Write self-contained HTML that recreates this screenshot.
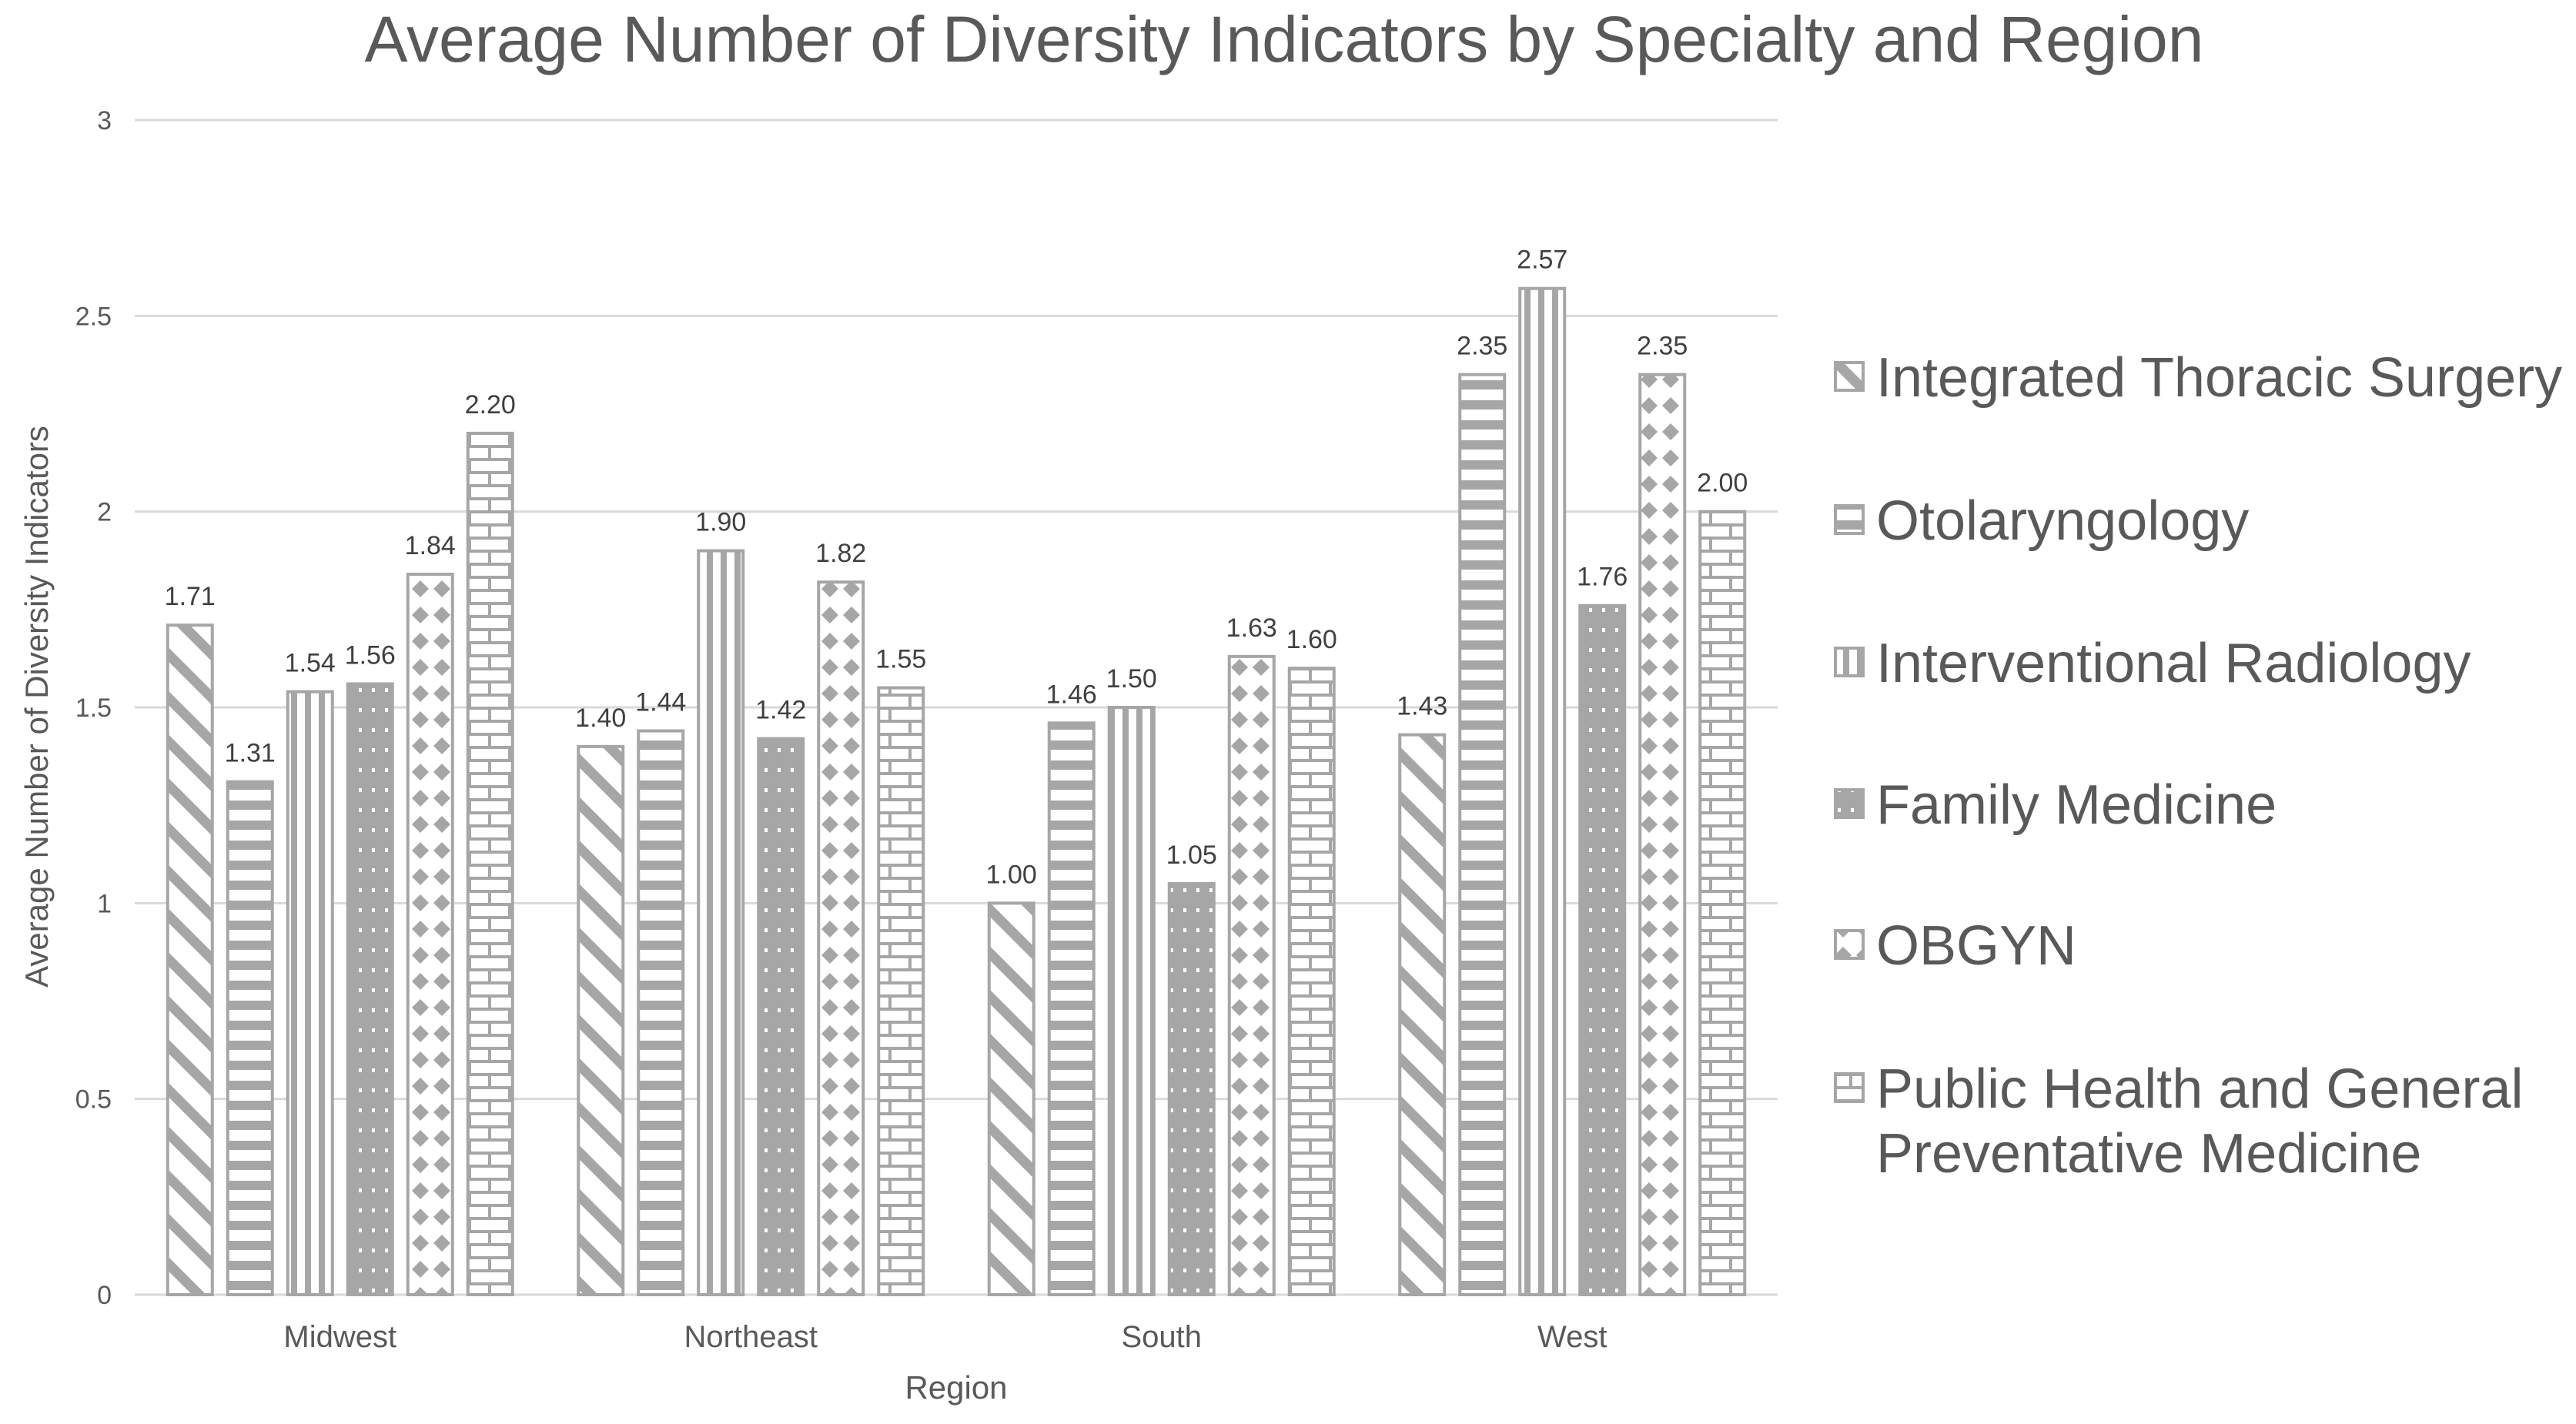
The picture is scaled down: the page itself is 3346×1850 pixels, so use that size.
<!DOCTYPE html>
<html><head><meta charset="utf-8">
<style>
html,body{margin:0;padding:0;background:#fff;}
svg{display:block;font-family:"Liberation Sans",Arial,sans-serif;}
</style></head>
<body>
<svg id="chart" width="3346" height="1850" viewBox="0 0 3346 1850" xmlns="http://www.w3.org/2000/svg">
<defs>
<pattern id="p0" patternUnits="userSpaceOnUse" width="40" height="40" patternTransform="rotate(45)">
<rect width="40" height="40" fill="#fff"/><rect x="0" y="0" width="40" height="13" fill="#a6a6a6"/></pattern>
<pattern id="p1" patternUnits="userSpaceOnUse" width="20" height="26">
<rect width="20" height="26" fill="#fff"/><rect y="0" width="20" height="12" fill="#a6a6a6"/></pattern>
<pattern id="p2" patternUnits="userSpaceOnUse" width="18" height="20">
<rect width="18" height="20" fill="#fff"/><rect x="0" width="8" height="20" fill="#a6a6a6"/></pattern>
<pattern id="p3" patternUnits="userSpaceOnUse" width="17" height="26">
<rect width="17" height="26" fill="#a6a6a6"/><rect x="7" y="10" width="4" height="5" fill="#fff"/></pattern>
<pattern id="p4" patternUnits="userSpaceOnUse" width="28" height="34">
<rect width="28" height="34" fill="#fff"/><polygon points="14,6 25,17 14,28 3,17" fill="#a6a6a6"/></pattern>
<pattern id="p5" patternUnits="userSpaceOnUse" width="52" height="34">
<rect width="52" height="34" fill="#fff"/>
<rect y="0" width="52" height="4" fill="#a6a6a6"/><rect y="17" width="52" height="4" fill="#a6a6a6"/>
<rect x="10" y="0" width="4" height="17" fill="#a6a6a6"/><rect x="36" y="17" width="4" height="17" fill="#a6a6a6"/></pattern>
</defs>
<text x="1668" y="80" text-anchor="middle" font-size="84" fill="#595959">Average Number of Diversity Indicators by Specialty and Region</text>
<g id="grid"></g>
<g id="bars"></g>
<text transform="translate(62,918) rotate(-90)" text-anchor="middle" font-size="42" fill="#595959">Average Number of Diversity Indicators</text>
<text x="1242" y="1817" text-anchor="middle" font-size="42" fill="#595959">Region</text>
<g id="legend"></g>
</svg>
<script>
const categories = ["Midwest","Northeast","South","West"];
const seriesNames = ["Integrated Thoracic Surgery","Otolaryngology","Interventional Radiology","Family Medicine","OBGYN","Public Health and General Preventative Medicine"];
const thoracic = [1.71,1.40,1.00,1.43];
const otolaryngology = [1.31,1.44,1.46,2.35];
const radiology = [1.54,1.90,1.50,2.57];
const familyMed = [1.56,1.42,1.05,1.76];
const obgyn = [1.84,1.82,1.63,2.35];
const publicHealth = [2.20,1.55,1.60,2.00];
const yTicks = [0,0.5,1,1.5,2,2.5,3];
const yTickLabels = ["0","0.5","1","1.5","2","2.5","3"];

const series = [thoracic,otolaryngology,radiology,familyMed,obgyn,publicHealth];
const NS="http://www.w3.org/2000/svg";
const X0=175, X1=2309, Y0=1682, YMAX=3, PH=1526;
const y = v => Y0 - v/YMAX*PH;
const bandW = (X1-X0)/categories.length;
const barW=58, step=78;
const xBar = (c,s) => X0 + bandW*c + bandW/2 - (step*5+barW)/2 + step*s;
function mk(tag,attrs,parent){const e=document.createElementNS(NS,tag);for(const k in attrs)e.setAttribute(k,attrs[k]);parent.appendChild(e);return e;}
const grid=document.getElementById('grid');
yTicks.forEach((t,i)=>{
  const l=mk('line',{x1:X0,x2:X1,y1:y(t),y2:y(t),stroke:'#d9d9d9','stroke-width':3},grid);
  
  
  const tx=mk('text',{x:145,y:y(t)+12,'text-anchor':'end','font-size':34,fill:'#595959'},grid);
  tx.textContent=yTickLabels[i];
  
  
});
categories.forEach((c,ci)=>{
  const tx=mk('text',{x:X0+bandW*ci+bandW/2,y:1750,'text-anchor':'middle','font-size':40,fill:'#595959'},grid);
  tx.textContent=c;
  
  
});
const bars=document.getElementById('bars');
series.forEach((arr,si)=>{
  arr.forEach((v,ci)=>{
    const x=xBar(ci,si);
    const r=mk('rect',{x:x,y:y(v),width:barW,height:Y0-y(v),fill:'url(#p'+si+')',stroke:'#a6a6a6','stroke-width':4},bars);
    
    
    const t=mk('text',{x:x+barW/2,y:y(v)-26,'text-anchor':'middle','font-size':34,fill:'#404040'},bars);
    t.textContent=v.toFixed(2);
    
    
  });
});
const legend=document.getElementById('legend');
const ly=[491,677,862,1046,1229,1415];
seriesNames.forEach((n,i)=>{
  const r=mk('rect',{x:2384,y:ly[i]-20,width:36,height:36,fill:'url(#p'+i+')',stroke:'#a6a6a6','stroke-width':4},legend);
  
  
  const t=mk('text',{x:2437,y:ly[i]+24,'font-size':72,fill:'#595959'},legend);
  
  
  if(i===5){
    const a=mk('tspan',{x:2437},t);a.textContent="Public Health and General";
    const b=mk('tspan',{x:2437,dy:84},t);b.textContent="Preventative Medicine";
  } else t.textContent=n;
});
</script>
</body></html>
